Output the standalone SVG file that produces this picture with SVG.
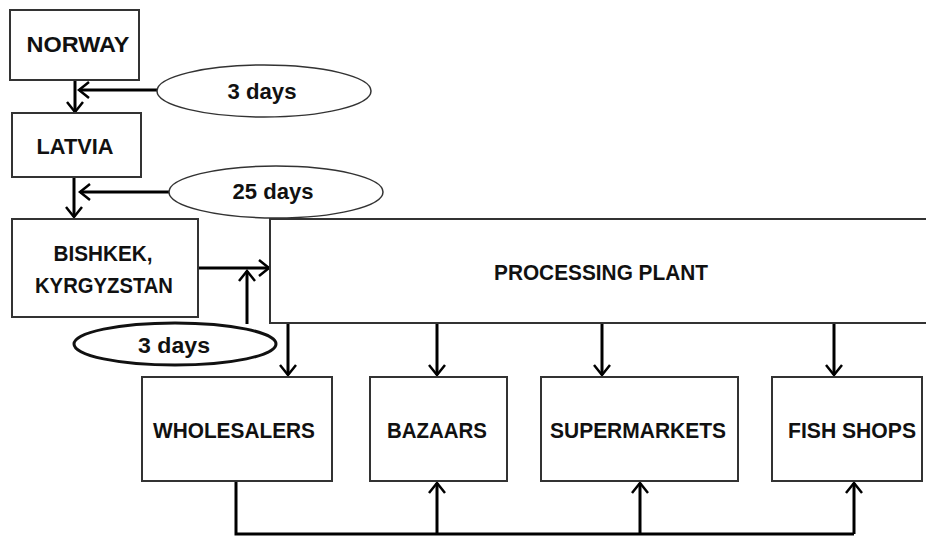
<svg xmlns="http://www.w3.org/2000/svg" width="926" height="536" viewBox="0 0 926 536">
  <style>
    .box { fill: #ffffff; stroke: #333333; stroke-width: 2; }
    .ell { fill: #ffffff; stroke: #333333; stroke-width: 1.5; }
    .ell-bold { fill: #ffffff; stroke: #111111; stroke-width: 3; }
    .lbl { font-family: "Liberation Sans", Arial, sans-serif; font-weight: bold; font-size: 22px; fill: #111111; text-anchor: middle; }
    .conn { fill: none; stroke: #000000; stroke-width: 3; }
  </style>
  <defs>
    <marker id="arr" markerUnits="userSpaceOnUse" markerWidth="16" markerHeight="20" refX="11" refY="9" orient="auto">
      <path d="M1,1 L11,9 L1,17" fill="none" stroke="#000000" stroke-width="2.5"/>
    </marker>
  </defs>
  <rect width="926" height="536" fill="#ffffff"/>

  <g id="connectors">
    <line class="conn" x1="75" y1="80" x2="75" y2="112" marker-end="url(#arr)"/>
    <line class="conn" x1="157" y1="90" x2="79" y2="90" marker-end="url(#arr)"/>
    <line class="conn" x1="74" y1="177" x2="74" y2="217" marker-end="url(#arr)"/>
    <line class="conn" x1="169" y1="192" x2="80" y2="192" marker-end="url(#arr)"/>
    <line class="conn" x1="198" y1="268" x2="269" y2="268" marker-end="url(#arr)"/>
    <line class="conn" x1="247" y1="324" x2="247" y2="271" marker-end="url(#arr)"/>
    <line class="conn" x1="288" y1="323" x2="288" y2="375" marker-end="url(#arr)"/>
    <line class="conn" x1="437" y1="323" x2="437" y2="375" marker-end="url(#arr)"/>
    <line class="conn" x1="602" y1="323" x2="602" y2="375" marker-end="url(#arr)"/>
    <line class="conn" x1="834" y1="323" x2="834" y2="375" marker-end="url(#arr)"/>
    <polyline class="conn" points="236,481 236,534 854,534"/>
    <line class="conn" x1="437" y1="534" x2="437" y2="483" marker-end="url(#arr)"/>
    <line class="conn" x1="640" y1="534" x2="640" y2="483" marker-end="url(#arr)"/>
    <line class="conn" x1="854" y1="534" x2="854" y2="483" marker-end="url(#arr)"/>
  </g>

  <g id="norway">
    <rect class="box" x="10" y="10" width="129" height="70"/>
    <text class="lbl" x="78" y="52" textLength="103" lengthAdjust="spacingAndGlyphs">NORWAY</text>
  </g>
  <g id="days3-top">
    <ellipse class="ell" cx="264" cy="91" rx="107" ry="26"/>
    <text class="lbl" x="262" y="99" textLength="69" lengthAdjust="spacingAndGlyphs">3 days</text>
  </g>
  <g id="latvia">
    <rect class="box" x="12" y="113" width="129" height="64"/>
    <text class="lbl" x="75" y="154" textLength="77" lengthAdjust="spacingAndGlyphs">LATVIA</text>
  </g>
  <g id="days25">
    <ellipse class="ell" cx="276" cy="192" rx="107" ry="26"/>
    <text class="lbl" x="273" y="199" textLength="81" lengthAdjust="spacingAndGlyphs">25 days</text>
  </g>
  <g id="bishkek">
    <rect class="box" x="12" y="219" width="186" height="98"/>
    <text class="lbl" x="103" y="261" textLength="99" lengthAdjust="spacingAndGlyphs">BISHKEK,</text>
    <text class="lbl" x="104" y="293" textLength="138" lengthAdjust="spacingAndGlyphs">KYRGYZSTAN</text>
  </g>
  <g id="processing-plant">
    <rect class="box" x="270" y="219" width="680" height="104"/>
    <text class="lbl" x="601" y="280" textLength="214" lengthAdjust="spacingAndGlyphs">PROCESSING PLANT</text>
  </g>
  <g id="days3-bottom">
    <ellipse class="ell-bold" cx="175" cy="344" rx="101" ry="21"/>
    <text class="lbl" x="174" y="353" textLength="72" lengthAdjust="spacingAndGlyphs">3 days</text>
  </g>
  <g id="wholesalers">
    <rect class="box" x="142" y="377" width="190" height="104"/>
    <text class="lbl" x="234" y="438" textLength="162" lengthAdjust="spacingAndGlyphs">WHOLESALERS</text>
  </g>
  <g id="bazaars">
    <rect class="box" x="370" y="377" width="137" height="104"/>
    <text class="lbl" x="437" y="438" textLength="100" lengthAdjust="spacingAndGlyphs">BAZAARS</text>
  </g>
  <g id="supermarkets">
    <rect class="box" x="541" y="377" width="197" height="104"/>
    <text class="lbl" x="638" y="438" textLength="176" lengthAdjust="spacingAndGlyphs">SUPERMARKETS</text>
  </g>
  <g id="fish-shops">
    <rect class="box" x="772" y="377" width="150" height="104"/>
    <text class="lbl" x="852" y="438" textLength="128" lengthAdjust="spacingAndGlyphs">FISH SHOPS</text>
  </g>
</svg>
